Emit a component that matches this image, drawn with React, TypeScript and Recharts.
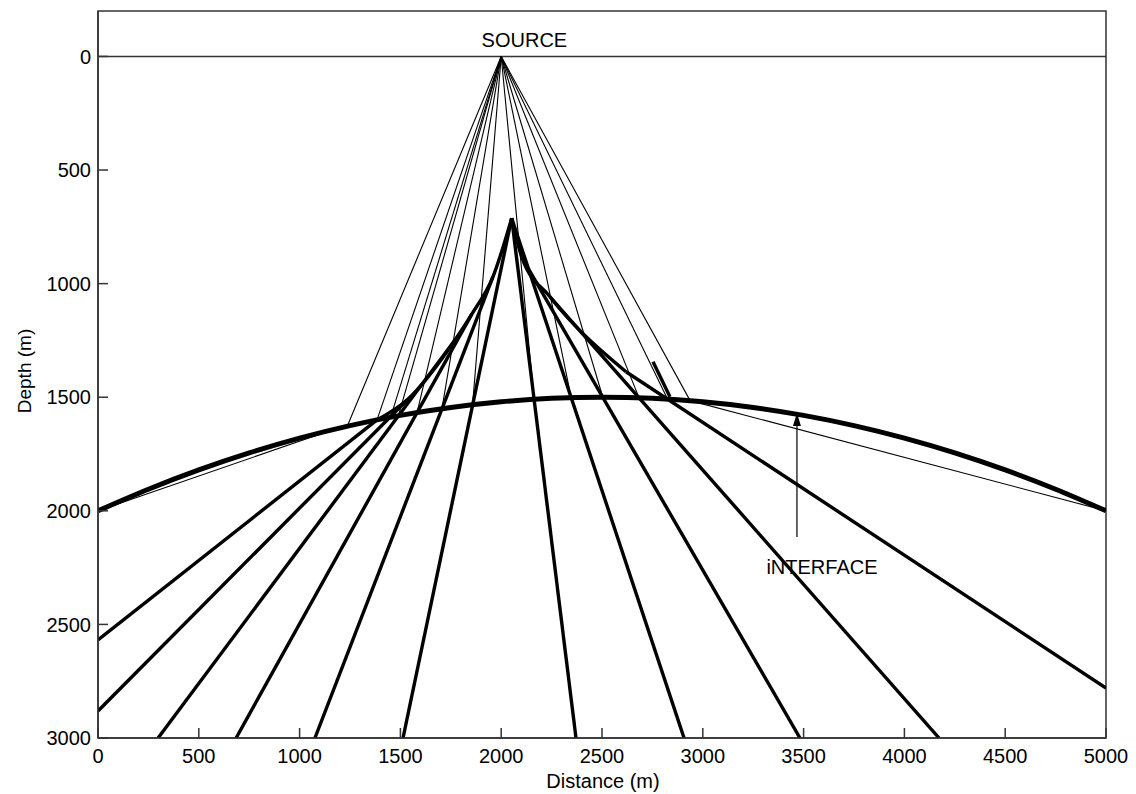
import React from "react";
import {
  LineChart, Line, XAxis, YAxis, ReferenceLine, ReferenceArea, ReferenceDot, Label,
} from "recharts";

const FONT = "'Liberation Sans', Arial, Helvetica, sans-serif";
const INK = "#000";
const FRAME = "#333";

// axis ticks
const distanceTicks = [0, 500, 1000, 1500, 2000, 2500, 3000, 3500, 4000, 4500, 5000];
const depthTicks = [0, 500, 1000, 1500, 2000, 2500, 3000];

// source at the surface
const sourceX = 2000;
const sourceDepth = 0;

// the dome-shaped interface
const interfaceX = [0, 250, 500, 750, 1000, 1250, 1500, 1750, 2000, 2250, 2500, 2750, 3000, 3250, 3500, 3750, 4000, 4250, 4500, 4750, 5000];
const interfaceDepth = [2000, 1905, 1820, 1745, 1680, 1625, 1580, 1545, 1520, 1505, 1500, 1505, 1520, 1545, 1580, 1625, 1680, 1745, 1820, 1905, 2000];

// thin rays: source -> point where they meet the interface
const hitX = [1240, 1384, 1452, 1490, 1583, 1706, 1858, 2163, 2347, 2504, 2684, 2825, 2937];
const hitDepth = [1620, 1600, 1588, 1582, 1567, 1551, 1533, 1509, 1502, 1500, 1503, 1508, 1515];

// thin lines running under the interface from the outermost hits
const leftTailX = [1240, 0];
const leftTailDepth = [1620, 2000];
const rightTailX = [2937, 5000];
const rightTailDepth = [1515, 2000];

// thick rays: from the caustic down to the frame
const thickStartX = [1384, 1533, 1771, 1855, 1959, 2052, 2052, 2052, 2103, 2242, 2619];
const thickStartDepth = [1600, 1512, 1248, 1133, 970, 712, 712, 712, 886, 1058, 1388];
const thickEndX = [0, 0, 298, 685, 1076, 1513, 2371, 2907, 3482, 4172, 5000];
const thickEndDepth = [2568, 2881, 3000, 3000, 3000, 3000, 3000, 3000, 3000, 3000, 2780];

// caustic branches
const causticLeftX = [1384, 1533, 1771, 1855, 1959, 2052];
const causticLeftDepth = [1600, 1512, 1248, 1133, 970, 712];
const causticRightX = [2052, 2103, 2242, 2619];
const causticRightDepth = [712, 886, 1058, 1388];
const stubX = [2753, 2837];
const stubDepth = [1344, 1498];

const pts = (xs: number[], ds: number[]) => xs.map((x, i) => ({ x, d: ds[i] }));

const lineProps = {
  dataKey: "d",
  dot: false,
  activeDot: false,
  isAnimationActive: false,
  stroke: INK,
} as const;

export default function App() {
  const tickStyle = { fill: INK, fontSize: 20, fontFamily: FONT };

  return (
    <div style={{ position: "absolute", left: 0, top: 0, width: 1136, height: 794, background: "#fff" }}>
      <LineChart width={1136} height={794} margin={{ top: 11, right: 30, bottom: 0, left: 0 }}>
        <XAxis
          dataKey="x"
          type="number"
          domain={[0, 5000]}
          ticks={distanceTicks}
          interval={0}
          height={56}
          tickSize={-10}
          tickMargin={21}
          tick={tickStyle}
          stroke={FRAME}
          strokeWidth={1.5}
          allowDataOverflow
        >
          <Label
            content={() => (
              <text x={603} y={788} textAnchor="middle" fontSize={20} fontFamily={FONT} fill={INK}>
                Distance (m)
              </text>
            )}
          />
        </XAxis>
        <YAxis
          type="number"
          reversed
          domain={[-200, 3000]}
          ticks={depthTicks}
          interval={0}
          width={98}
          tickSize={-10}
          tickMargin={17}
          tick={tickStyle}
          stroke={FRAME}
          strokeWidth={1.5}
          allowDataOverflow
        >
          <Label
            content={() => (
              <text
                x={24}
                y={371}
                transform="rotate(-90, 24, 371)"
                textAnchor="middle"
                dominantBaseline="central"
                fontSize={19}
                fontFamily={FONT}
                fill={INK}
              >
                Depth (m)
              </text>
            )}
          />
        </YAxis>

        <ReferenceArea x1={0} x2={5000} y1={-200} y2={3000} fill="none" stroke={FRAME} strokeWidth={1.5} />
        <ReferenceLine y={0} stroke={FRAME} strokeWidth={1.5} />

        {/* incident rays */}
        {hitX.map((x, i) => (
          <Line
            key={"in" + i}
            {...lineProps}
            data={[{ x: sourceX, d: sourceDepth }, { x, d: hitDepth[i] }]}
            strokeWidth={1.1}
          />
        ))}
        <Line {...lineProps} data={pts(leftTailX, leftTailDepth)} strokeWidth={1.1} />
        <Line {...lineProps} data={pts(rightTailX, rightTailDepth)} strokeWidth={1.1} />

        {/* thick rays */}
        {thickStartX.map((x, i) => (
          <Line
            key={"out" + i}
            {...lineProps}
            data={[{ x, d: thickStartDepth[i] }, { x: thickEndX[i], d: thickEndDepth[i] }]}
            strokeWidth={3.4}
          />
        ))}
        <Line {...lineProps} type="monotoneX" data={pts(causticLeftX, causticLeftDepth)} strokeWidth={3.4} />
        <Line {...lineProps} type="monotoneX" data={pts(causticRightX, causticRightDepth)} strokeWidth={3.4} />
        <Line {...lineProps} data={pts(stubX, stubDepth)} strokeWidth={3.4} />

        {/* interface */}
        <Line {...lineProps} type="monotoneX" data={pts(interfaceX, interfaceDepth)} strokeWidth={5} />

        {/* annotations */}
        <ReferenceDot
          x={2115}
          y={-74}
          r={1}
          fill="none"
          stroke="none"
          label={{ value: "SOURCE", position: "center", fill: INK, fontSize: 20, fontFamily: FONT }}
        />
        <ReferenceLine segment={[{ x: 3467, y: 2115 }, { x: 3467, y: 1590 }]} stroke={INK} strokeWidth={1.2} />
        <ReferenceDot
          x={3467}
          y={1569}
          r={1}
          shape={(p: any) => (
            <polygon
              points={`${p.cx},${p.cy} ${p.cx - 4},${p.cy + 13} ${p.cx + 4},${p.cy + 13}`}
              fill={INK}
            />
          )}
        />
        <ReferenceDot
          x={3591}
          y={2245}
          r={1}
          fill="none"
          stroke="none"
          label={{ value: "iNTERFACE", position: "center", fill: INK, fontSize: 20, fontFamily: FONT }}
        />
      </LineChart>
    </div>
  );
}
